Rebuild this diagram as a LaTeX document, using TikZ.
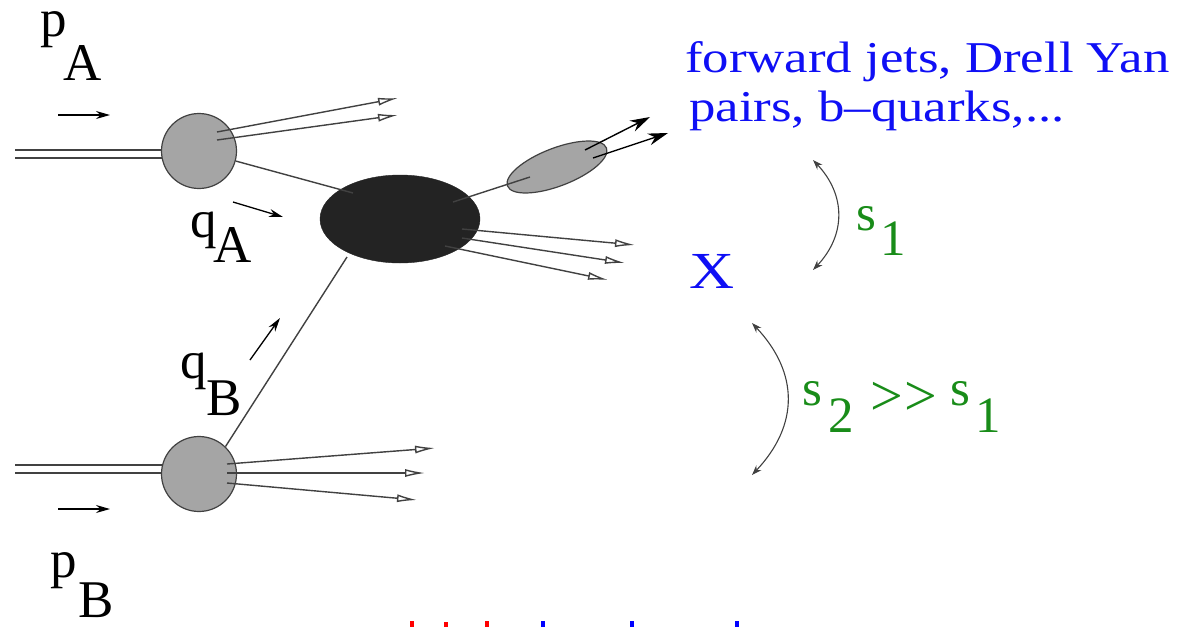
\documentclass[tikz,border=0pt]{standalone}
\usepackage{fontspec}
\setmainfont{Liberation Serif}
\newfontfamily\widefont[FakeStretch=1.2]{Liberation Serif}
\usetikzlibrary{shapes.geometric,arrows.meta,backgrounds}
\definecolor{txtblue}{RGB}{15,15,245}
\definecolor{txtgreen}{RGB}{25,140,25}
\definecolor{blobgray}{RGB}{165,165,165}
\definecolor{coregray}{RGB}{35,35,35}
\definecolor{linegray}{RGB}{65,65,65}
\tikzset{
 lbl/.style={inner sep=0pt, anchor=base west, font=\fontsize{53}{60}\selectfont},
 bluelbl/.style={inner sep=0pt, anchor=base west, text=txtblue, font=\widefont\fontsize{44}{50}\selectfont},
 greenlbl/.style={inner sep=0pt, anchor=base west, text=txtgreen, font=\fontsize{51}{60}\selectfont},
 blob/.style={circle, draw=linegray, line width=1.2pt, fill=blobgray, minimum size=75pt, inner sep=0pt},
 corestyle/.style={ellipse, fill=coregray, draw=coregray, minimum width=160pt, minimum height=88pt, inner sep=0pt},
 jetblob/.style={ellipse, fill=blobgray, draw=linegray, line width=1.2pt, minimum width=106pt, minimum height=38pt, inner sep=0pt},
 beam/.style={draw=linegray, line width=1.7pt},
 prop/.style={draw=linegray, line width=1.4pt},
 outarr/.style={draw=linegray, line width=1.4pt, -{Latex[open, length=20pt, width=8pt]}},
 outblack/.style={draw=black, line width=1.4pt, -{Stealth[length=20pt, width=12pt]}},
 mom/.style={draw=black, line width=1.3pt, -{Stealth[length=14pt, width=8pt]}},
 spanarr/.style={draw=linegray, line width=1.1pt, {Stealth[length=10pt,width=7pt]}-{Stealth[length=10pt,width=7pt]}},
}
\begin{document}
\begin{tikzpicture}[x=1pt,y=-1pt]
\path[use as bounding box] (0,0) rectangle (1182,627);

% blobs
\node[blob] (blobA) at (199,151) {};
\node[blob] (blobB) at (199,474) {};
\node[corestyle] (core) at (400,219) {};
\node[jetblob, rotate=21] (jet) at (557,167) {};

% beams
\coordinate (inA1) at (15,150);
\coordinate (inA2) at (15,158);
\coordinate (inB1) at (15,465);
\coordinate (inB2) at (15,473);
\begin{pgfonlayer}{background}
\draw[beam] (inA1) -- (inA1 -| blobA.center);
\draw[beam] (inA2) -- (inA2 -| blobA.center);
\draw[beam] (inB1) -- (inB1 -| blobB.center);
\draw[beam] (inB2) -- (inB2 -| blobB.center);
\end{pgfonlayer}

% propagators
\coordinate (cA) at (353,193);
\coordinate (cB) at (347,257);
\coordinate (cj1) at (453,202);
\coordinate (cj2) at (530,177);
\draw[prop] (blobA) -- (cA);
\draw[prop] (blobB.46) -- (cB);
\draw[prop] (cj1) -- (cj2);

% remnant jets A
\coordinate (a1s) at (217,132); \coordinate (a1e) at (398,98);
\coordinate (a2s) at (217,140); \coordinate (a2e) at (398,115);
\draw[outarr] (a1s) -- (a1e);
\draw[outarr] (a2s) -- (a2e);
% remnant jets B
\coordinate (b1s) at (227,464); \coordinate (b1e) at (435,448);
\coordinate (b2s) at (227,473); \coordinate (b2e) at (425,473);
\coordinate (b3s) at (227,483); \coordinate (b3e) at (417,500);
\draw[outarr] (b1s) -- (b1e);
\draw[outarr] (b2s) -- (b2e);
\draw[outarr] (b3s) -- (b3e);
% core jets
\coordinate (k1s) at (462,229); \coordinate (k1e) at (635,245);
\coordinate (k2s) at (462,238); \coordinate (k2e) at (625,263);
\coordinate (k3s) at (445,246); \coordinate (k3e) at (608,280);
\draw[outarr] (k1s) -- (k1e);
\draw[outarr] (k2s) -- (k2e);
\draw[outarr] (k3s) -- (k3e);
% forward jet products
\coordinate (f1s) at (585,150); \coordinate (f1e) at (650,117);
\coordinate (f2s) at (593,158); \coordinate (f2e) at (668,133);
\draw[outblack] (f1s) -- (f1e);
\draw[outblack] (f2s) -- (f2e);

% momentum arrows
\coordinate (mpA1) at (58,115); \coordinate (mpA2) at (110,115);
\coordinate (mqA1) at (233,202); \coordinate (mqA2) at (283,217);
\coordinate (mqB1) at (250,360); \coordinate (mqB2) at (280,318);
\coordinate (mpB1) at (58,509); \coordinate (mpB2) at (110,509);
\draw[mom] (mpA1) -- (mpA2);
\draw[mom] (mqA1) -- (mqA2);
\draw[mom] (mqB1) -- (mqB2);
\draw[mom] (mpB1) -- (mpB2);

% labels
\node[lbl] (pA) at (40,36) {p\kern-3pt\lower44pt\hbox{A}};
\node[lbl] (qA) at (190,237) {q\kern-3pt\lower25pt\hbox{A}};
\node[lbl] (qB) at (180,378) {q\kern0pt\lower37pt\hbox{B}};
\node[lbl] (pB) at (50,577) {p\kern2pt\lower40pt\hbox{B}};

\node[bluelbl] (l1) at (685,72) {forward jets, Drell Yan};
\node[bluelbl] (l2) at (689,121) {pairs, b–quarks,...};
\node[bluelbl, font=\widefont\fontsize{52}{60}\selectfont] (X) at (689,288) {X};

% rapidity spans
\coordinate (s1top) at (813,160); \coordinate (s1bot) at (813,270);
\draw[spanarr] (s1top) .. controls (846,195) and (846,235) .. (s1bot);
\coordinate (s2top) at (752,323); \coordinate (s2bot) at (752,475);
\draw[spanarr] (s2top) .. controls (799,373) and (799,425) .. (s2bot);

\node[greenlbl] (s1) at (856,230) {s\kern4pt\lower25pt\hbox{1}};
\node[greenlbl] (s2) at (802,405) {\rlap{s}\kern26pt\rlap{\lower27pt\hbox{2}}\kern42pt\rlap{\lower10pt\hbox{\fontsize{58}{60}\selectfont >\kern2pt>}}\kern80pt\rlap{s}\kern25pt\lower27pt\hbox{1}};

% cut-off marks at the bottom
\fill[red] (410,621) rectangle (414,627);
\fill[red] (444,622) rectangle (448,627);
\fill[red] (485,621) rectangle (489,627);
\fill[blue] (541,621) rectangle (545,627);
\fill[blue] (630,621) rectangle (634,627);
\fill[blue] (735,621) rectangle (739,627);
\end{tikzpicture}
\end{document}
